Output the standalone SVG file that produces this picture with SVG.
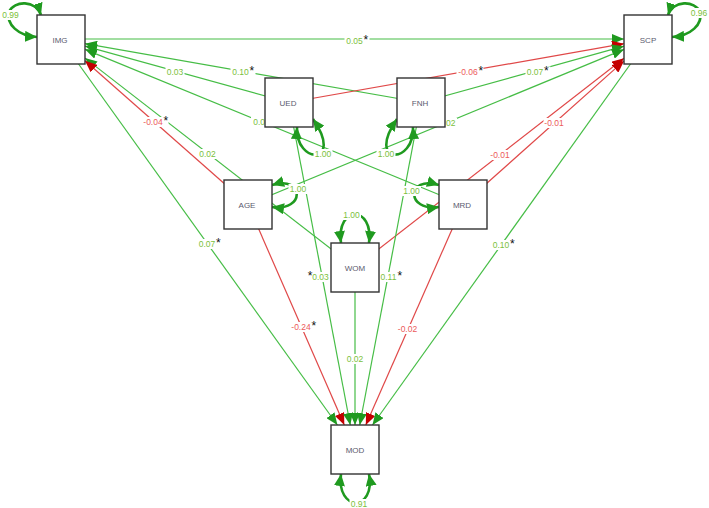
<svg xmlns="http://www.w3.org/2000/svg" width="709" height="508" viewBox="0 0 709 508">
<style>
.e{fill:none;stroke-width:1.2}
.eg{stroke:#46bd46}
.er{stroke:#e04848}
.lp{fill:none;stroke:#1f9a1f;stroke-width:2.6}
.bg{fill:#fff}
.t{font-family:"Liberation Sans",Arial,sans-serif;font-size:8.5px}
.lg{fill:#7cbf3c}
.lr{fill:#ec5a5a}
.st{font-family:"Liberation Sans",Arial,sans-serif;font-size:12px;fill:#111}
.nd rect{fill:#fff;stroke:#333;stroke-width:1.4}
.nd text{font-family:"Liberation Sans",Arial,sans-serif;font-size:8px;fill:#5a5a6e;text-anchor:middle}
</style>
<defs>
<marker id="ag" viewBox="0 0 12 10" refX="12" refY="5" markerWidth="12" markerHeight="10" markerUnits="userSpaceOnUse" orient="auto"><path d="M0,0 L12,5 L0,10 z" fill="#1f9a1f"/></marker>
<marker id="ar" viewBox="0 0 12 10" refX="12" refY="5" markerWidth="12" markerHeight="10" markerUnits="userSpaceOnUse" orient="auto"><path d="M0,0 L12,5 L0,10 z" fill="#c40000"/></marker>
<marker id="al" viewBox="0 0 12 11" refX="12" refY="5.5" markerWidth="12" markerHeight="11" markerUnits="userSpaceOnUse" orient="auto-start-reverse"><path d="M0,0 L12,5.5 L0,11 z" fill="#1f9a1f"/></marker>
</defs>
<rect width="709" height="508" fill="#fff"/>
<g id="connectors">
<line class="e eg" x1="421" y1="102.5" x2="85" y2="43.7" marker-end="url(#ag)"/>
<line class="e eg" x1="289" y1="102.5" x2="85" y2="46.1" marker-end="url(#ag)"/>
<line class="e eg" x1="463" y1="204.5" x2="85" y2="49.35" marker-end="url(#ag)"/>
<line class="e eg" x1="355" y1="267.5" x2="85" y2="58.1" marker-end="url(#ag)"/>
<line class="e er" x1="248" y1="204.5" x2="85" y2="60.7" marker-end="url(#ar)"/>
<line class="e eg" x1="61" y1="39" x2="624" y2="39" marker-end="url(#ag)"/>
<line class="e er" x1="289" y1="102.5" x2="624" y2="43.7" marker-end="url(#ar)"/>
<line class="e eg" x1="421" y1="102.5" x2="624" y2="46.2" marker-end="url(#ag)"/>
<line class="e eg" x1="248" y1="204.5" x2="624" y2="49.4" marker-end="url(#ag)"/>
<line class="e er" x1="355" y1="267.5" x2="624" y2="58.2" marker-end="url(#ar)"/>
<line class="e er" x1="463" y1="204.5" x2="624" y2="60.9" marker-end="url(#ar)"/>
<line class="e eg" x1="61" y1="39.5" x2="337.4" y2="425" marker-end="url(#ag)"/>
<line class="e er" x1="248" y1="204.5" x2="344.3" y2="425" marker-end="url(#ar)"/>
<line class="e eg" x1="289" y1="102.5" x2="350.3" y2="425" marker-end="url(#ag)"/>
<line class="e eg" x1="355" y1="267.5" x2="355" y2="425" marker-end="url(#ag)"/>
<line class="e eg" x1="421" y1="102.5" x2="359.7" y2="425" marker-end="url(#ag)"/>
<line class="e er" x1="463" y1="204.5" x2="365.8" y2="425" marker-end="url(#ar)"/>
<line class="e eg" x1="648" y1="39.5" x2="372.5" y2="425" marker-end="url(#ag)"/>
<path class="lp" d="M41,15 C36,0 14,0 9,12 C6,24 18,36 37,37" marker-start="url(#al)" marker-end="url(#al)"/>
<path class="lp" d="M668,15 C673,0 695,0 700,12 C703,24 691,36 672,37" marker-start="url(#al)" marker-end="url(#al)"/>
<path class="lp" d="M341,474 C336,512 376,512 369,474" marker-start="url(#al)" marker-end="url(#al)"/>
<path class="lp" d="M297,127 C295,165 345,165 313,119" marker-start="url(#al)" marker-end="url(#al)"/>
<path class="lp" d="M413,127 C415,165 365,165 397,119" marker-start="url(#al)" marker-end="url(#al)"/>
<path class="lp" d="M272,185 C305,175 305,212 272,207" marker-start="url(#al)" marker-end="url(#al)"/>
<path class="lp" d="M439,185 C406,175 406,212 439,207" marker-start="url(#al)" marker-end="url(#al)"/>
<path class="lp" d="M341,243 C336,205 374,205 369,243" marker-start="url(#al)" marker-end="url(#al)"/>
</g>
<g id="labels">
<rect class="bg" x="344.5" y="35" width="25" height="10"/><text class="t lg" x="354.5" y="43.5" text-anchor="middle">0.05</text><text class="st" x="363.5" y="44">*</text>
<rect class="bg" x="230.5" y="67" width="25" height="10"/><text class="t lg" x="240.5" y="75" text-anchor="middle">0.10</text><text class="st" x="249.5" y="75">*</text>
<rect class="bg" x="165.5" y="67" width="19" height="10"/><text class="t lg" x="175" y="75" text-anchor="middle">0.03</text>
<rect class="bg" x="251" y="117" width="14" height="10"/><text class="t lg" x="265" y="125" text-anchor="end">0.0</text>
<rect class="bg" x="141.5" y="117" width="27" height="10"/><text class="t lr" x="153" y="125" text-anchor="middle">-0.04</text><text class="st" x="163.5" y="125">*</text>
<rect class="bg" x="198" y="149" width="19" height="10"/><text class="t lg" x="207.5" y="157" text-anchor="middle">0.02</text>
<rect class="bg" x="456.5" y="67" width="27" height="10"/><text class="t lr" x="468" y="75" text-anchor="middle">-0.06</text><text class="st" x="478.5" y="75">*</text>
<rect class="bg" x="525.5" y="66.5" width="25" height="10"/><text class="t lg" x="535" y="74.5" text-anchor="middle">0.07</text><text class="st" x="544" y="74.5">*</text>
<rect class="bg" x="445" y="118" width="12" height="10"/><text class="t lg" x="446" y="126">02</text>
<rect class="bg" x="543.5" y="118" width="21" height="10"/><text class="t lr" x="554" y="126" text-anchor="middle">-0.01</text>
<rect class="bg" x="489.5" y="150" width="21" height="10"/><text class="t lr" x="500" y="158" text-anchor="middle">-0.01</text>
<rect class="bg" x="197.5" y="239" width="24" height="10"/><text class="t lg" x="207" y="247" text-anchor="middle">0.07</text><text class="st" x="216" y="247">*</text>
<rect class="bg" x="491.5" y="240" width="24" height="10"/><text class="t lg" x="501" y="248" text-anchor="middle">0.10</text><text class="st" x="510" y="248">*</text>
<rect class="bg" x="289.5" y="322" width="27" height="10"/><text class="t lr" x="301" y="330" text-anchor="middle">-0.24</text><text class="st" x="311.5" y="330">*</text>
<rect class="bg" x="397" y="324" width="21" height="10"/><text class="t lr" x="407.5" y="332" text-anchor="middle">-0.02</text>
<rect class="bg" x="345.5" y="354" width="19" height="10"/><text class="t lg" x="355" y="362" text-anchor="middle">0.02</text>
<rect class="bg" x="306" y="272" width="24" height="10"/><text class="st" x="312.5" y="280" text-anchor="end">*</text><text class="t lg" x="320.5" y="280" text-anchor="middle">0.03</text>
<rect class="bg" x="379" y="272" width="24" height="10"/><text class="t lg" x="388.5" y="280" text-anchor="middle">0.11</text><text class="st" x="397.5" y="280">*</text>
<rect class="bg" x="1" y="10" width="19" height="10"/><text class="t lg" x="10.5" y="18" text-anchor="middle">0.99</text>
<rect class="bg" x="690" y="8" width="19" height="10"/><text class="t lg" x="699" y="16" text-anchor="middle">0.96</text>
<rect class="bg" x="349.5" y="499" width="19" height="10"/><text class="t lg" x="359" y="507" text-anchor="middle">0.91</text>
<rect class="bg" x="313.5" y="149" width="19" height="10"/><text class="t lg" x="323" y="157" text-anchor="middle">1.00</text>
<rect class="bg" x="376.5" y="149" width="19" height="10"/><text class="t lg" x="386" y="157" text-anchor="middle">1.00</text>
<rect class="bg" x="288.5" y="184" width="19" height="10"/><text class="t lg" x="298" y="192" text-anchor="middle">1.00</text>
<rect class="bg" x="402" y="186" width="19" height="10"/><text class="t lg" x="411.5" y="194" text-anchor="middle">1.00</text>
<rect class="bg" x="342" y="210" width="19" height="10"/><text class="t lg" x="351.5" y="218" text-anchor="middle">1.00</text>
</g>
<g id="IMG" class="nd"><rect x="37" y="15" width="48" height="49"/><text x="60" y="42.5">IMG</text></g>
<g id="SCP" class="nd"><rect x="624" y="15" width="48" height="49"/><text x="648" y="42.5">SCP</text></g>
<g id="UED" class="nd"><rect x="265" y="78" width="48" height="49"/><text x="288" y="105.5">UED</text></g>
<g id="FNH" class="nd"><rect x="397" y="78" width="48" height="49"/><text x="420" y="105.5">FNH</text></g>
<g id="AGE" class="nd"><rect x="224" y="180" width="48" height="49"/><text x="247" y="207.5">AGE</text></g>
<g id="MRD" class="nd"><rect x="439" y="180" width="48" height="49"/><text x="462" y="207.5">MRD</text></g>
<g id="WOM" class="nd"><rect x="331" y="243" width="48" height="49"/><text x="355" y="270.5">WOM</text></g>
<g id="MOD" class="nd"><rect x="331" y="425" width="48" height="49"/><text x="355" y="452.5">MOD</text></g>
</svg>
